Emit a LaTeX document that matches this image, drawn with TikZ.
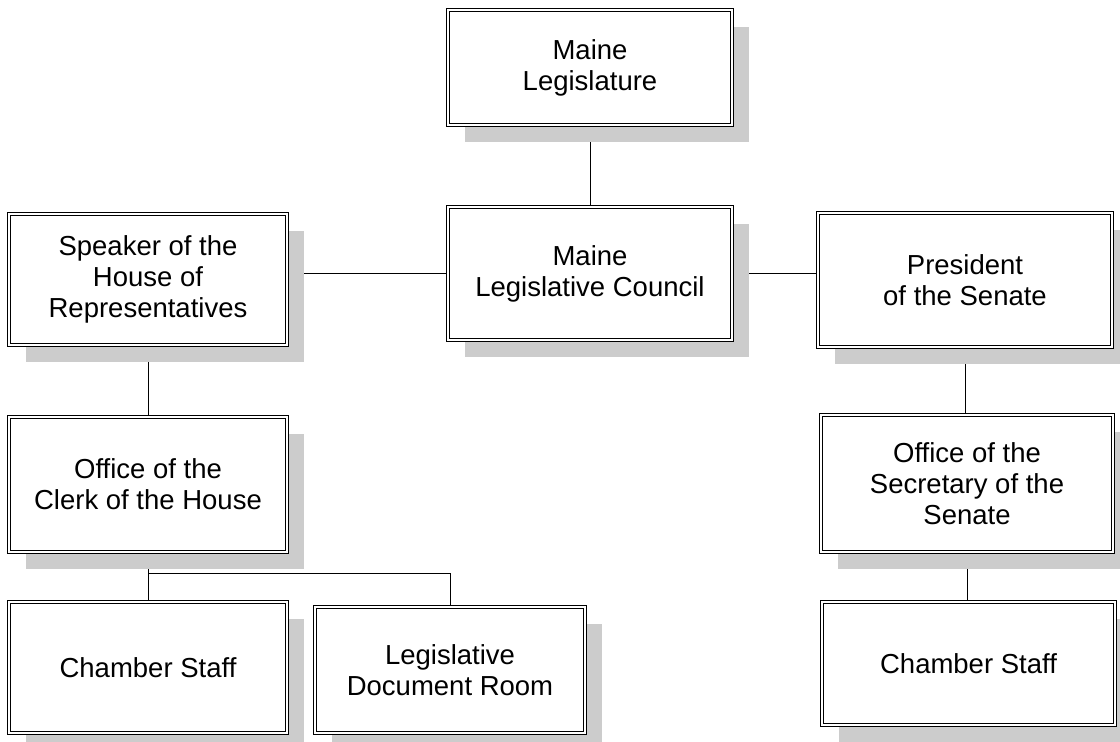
\documentclass[tikz,border=0pt]{standalone}
\usepackage{fontspec}
\setmainfont{Liberation Sans}
\usetikzlibrary{shadows,calc}
\pgfdeclarelayer{background}
\pgfsetlayers{background,main}
\begin{document}
\begin{tikzpicture}[x=1pt,y=1pt,
  box/.style={draw=black, line width=0.9pt, double=white, double distance=1.6pt,
    fill=white, rectangle, align=center, inner sep=0pt,
    font=\fontsize{27.5}{31}\selectfont,
    drop shadow={shadow xshift=17pt, shadow yshift=-17pt, fill=black!20, opacity=1}},
  conn/.style={draw=black, line width=0.8pt}]
\useasboundingbox (0,0) rectangle (1120,-742);
\node[box, minimum width=284pt, minimum height=115pt] (leg) at (590,-67.5) {Maine\\Legislature};
\node[box, minimum width=284pt, minimum height=133pt] (council) at (590,-273.5) {Maine\\Legislative Council};
\node[box, minimum width=278pt, minimum height=131pt] (speaker) at (148,-279.5) {Speaker of the\\House of\\Representatives};
\node[box, minimum width=294pt, minimum height=134pt] (president) at (965,-280) {President\\of the Senate};
\node[box, minimum width=278pt, minimum height=135pt] (clerk) at (148,-484.5) {Office of the\\Clerk of the House};
\node[box, minimum width=292pt, minimum height=137pt] (secretary) at (967,-483.5) {Office of the\\Secretary of the\\Senate};
\node[box, minimum width=278pt, minimum height=131pt] (chamberL) at (148,-667.5) {Chamber Staff};
\node[box, minimum width=270pt, minimum height=126pt] (docroom) at (450,-670) {Legislative\\Document Room};
\node[box, minimum width=293pt, minimum height=123pt] (chamberR) at (968.5,-663.5) {Chamber Staff};
\coordinate (br) at ($(clerk.south)+(0,-21)$);
\begin{pgfonlayer}{background}
\draw[conn] (leg.south) -- (council.north);
\draw[conn] (council.west) -- (council.west -| speaker.east);
\draw[conn] (council.east) -- (council.east -| president.west);
\draw[conn] (president.south) -- (president.south |- secretary.north);
\draw[conn] (secretary.south) -- (secretary.south |- chamberR.north);
\draw[conn] (speaker.south) -- (clerk.north);
\draw[conn] (clerk.south) -- (chamberL.north);
\draw[conn] (br) -| (docroom.north);
\end{pgfonlayer}
\end{tikzpicture}
\end{document}
